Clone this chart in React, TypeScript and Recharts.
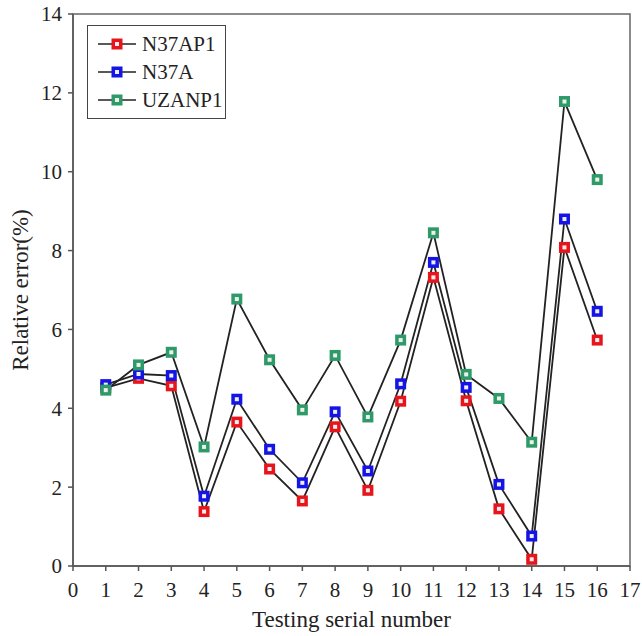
import {
  LineChart,
  Line,
  XAxis,
  YAxis,
  ReferenceArea,
} from "recharts";

const serials = [1, 2, 3, 4, 5, 6, 7, 8, 9, 10, 11, 12, 13, 14, 15, 16];
const n37ap1 = [4.52, 4.76, 4.57, 1.38, 3.65, 2.46, 1.65, 3.53, 1.92, 4.18, 7.32, 4.19, 1.45, 0.17, 8.08, 5.73];
const n37a = [4.6, 4.87, 4.83, 1.77, 4.23, 2.96, 2.11, 3.91, 2.41, 4.62, 7.7, 4.53, 2.07, 0.76, 8.8, 6.46];
const uzanp1 = [4.46, 5.1, 5.42, 3.02, 6.77, 5.23, 3.96, 5.34, 3.78, 5.73, 8.45, 4.86, 4.25, 3.14, 11.78, 9.8];

const xTicks = [0, 1, 2, 3, 4, 5, 6, 7, 8, 9, 10, 11, 12, 13, 14, 15, 16, 17];
const yTicks = [0, 2, 4, 6, 8, 10, 12, 14];

const series = [
  { key: "N37AP1", color: "#e8141b" },
  { key: "N37A", color: "#1414e6" },
  { key: "UZANP1", color: "#2e9a67" },
];

const data = serials.map((s, i) => ({
  serial: s,
  N37AP1: n37ap1[i],
  N37A: n37a[i],
  UZANP1: uzanp1[i],
}));

const font = "Liberation Serif, Times New Roman, serif";

function SquareDot(color: string) {
  return (props: any) => {
    const { cx, cy, index } = props;
    if (cx == null || cy == null) return null;
    return (
      <g key={index}>
        <rect x={cx - 5.5} y={cy - 5.5} width={11} height={11} fill={color} />
        <rect x={cx - 2} y={cy - 2} width={4} height={4} fill="#eee" />
      </g>
    );
  };
}

// tick text with explicit serif font
function SerifTick(props: any) {
  const { x, y, payload, textAnchor, verticalAnchor } = props;
  const dy = verticalAnchor === "start" ? "0.71em" : "0.355em";
  return (
    <text x={x} y={y} dy={dy} textAnchor={textAnchor} fill="#222" fontSize={21} fontFamily={font}>
      {payload.value}
    </text>
  );
}

function LegendBox() {
  return (
    <div
      style={{
        position: "absolute",
        left: 87,
        top: 25,
        border: "1px solid #444",
        width: 139,
        height: 94,
        boxSizing: "border-box",
        background: "#fff",
        fontFamily: font,
        fontSize: 21,
        color: "#222",
        paddingTop: 4,
      }}
    >
      {series.map((s) => (
        <div key={s.key} style={{ display: "flex", alignItems: "center", height: 28 }}>
          <svg width={46} height={14} style={{ marginLeft: 8 }}>
            <line x1={2} y1={7} x2={40} y2={7} stroke="#222" strokeWidth={1.5} />
            <rect x={15.5} y={1.5} width={11} height={11} fill={s.color} />
            <rect x={19} y={5} width={4} height={4} fill="#eee" />
          </svg>
          <span>{s.key}</span>
        </div>
      ))}
    </div>
  );
}

export default function App() {
  return (
    <div style={{ position: "absolute", left: 0, top: 0, width: 642, height: 636, background: "#fff", fontFamily: font }}>
      <LineChart
        width={642}
        height={636}
        data={data}
        margin={{ top: 14, right: 12, left: 0, bottom: 0 }}
        style={{ fontFamily: font }}
      >
        <ReferenceArea x1={0} x2={17} y1={0} y2={14} fill="none" stroke="#666" strokeWidth={1.5} ifOverflow="visible" />
        <XAxis
          dataKey="serial"
          type="number"
          domain={[0, 17]}
          ticks={xTicks}
          interval={0}
          height={70}
          stroke="#555"
          strokeWidth={1.5}
          tickSize={5}
          tickMargin={11}
          tick={<SerifTick />}
          label={{ value: "Testing serial number", position: "insideBottom", offset: 9, fill: "#222", fontSize: 23, fontFamily: font }}
        />
        <YAxis
          type="number"
          domain={[0, 14]}
          ticks={yTicks}
          interval={0}
          width={73}
          stroke="#555"
          strokeWidth={1.5}
          tickSize={5}
          tickMargin={6}
          tick={<SerifTick />}
          label={{ value: "Relative error(%)", angle: -90, position: "insideLeft", offset: 20, style: { textAnchor: "middle" }, fill: "#222", fontSize: 23, fontFamily: font }}
        />
        {series.map((s) => (
          <Line
            key={s.key}
            dataKey={s.key}
            type="linear"
            stroke="#222"
            strokeWidth={1.8}
            dot={SquareDot(s.color)}
            activeDot={false}
            isAnimationActive={false}
          />
        ))}
      </LineChart>
      <LegendBox />
    </div>
  );
}
